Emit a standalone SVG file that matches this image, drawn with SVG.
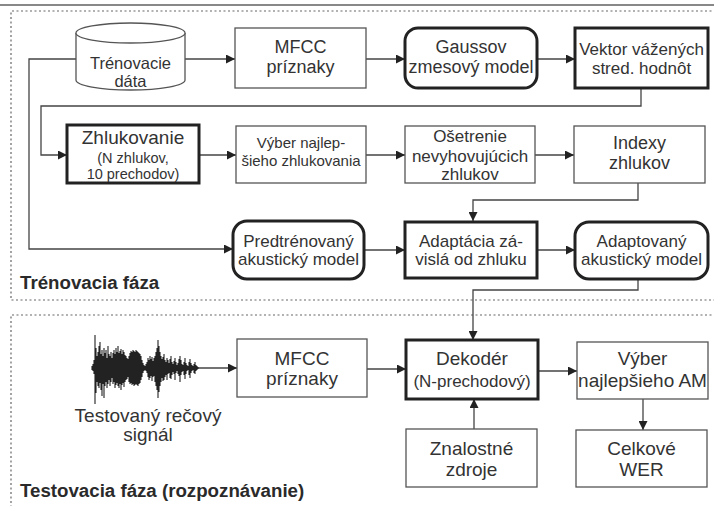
<svg xmlns="http://www.w3.org/2000/svg" width="714" height="506" viewBox="0 0 714 506">
  <defs>
    <marker id="arrow" viewBox="0 0 10 10" refX="10" refY="5" markerWidth="10" markerHeight="9" markerUnits="userSpaceOnUse" orient="auto">
      <path d="M0,0 L10,5 L0,10 Z" fill="#222"/>
    </marker>
    <style>
      text { font-family: "Liberation Sans", Arial, sans-serif; fill: #333; text-anchor: middle; }
      .t165 { font-size: 16.5px; }
      .t17 { font-size: 17px; }
      .t18 { font-size: 18px; }
      .t19 { font-size: 19px; }
      .t15 { font-size: 15px; }
      .t145 { font-size: 14.5px; }
      .label { font-weight: bold; font-size: 18.7px; text-anchor: start; fill: #2a2a2a; }
      .box { fill: #fff; stroke: #555; stroke-width: 1.3; }
      .bold { fill: #fff; stroke: #222; stroke-width: 3; }
      .frame { fill: none; stroke: #666; stroke-width: 1.2; stroke-dasharray: 2 2.5; }
      .conn { fill: none; stroke: #444; stroke-width: 1.3; }
      .arr { marker-end: url(#arrow); }
    </style>
  </defs>

  <rect width="714" height="506" fill="#fff"/>
  <line x1="0" y1="5" x2="714" y2="5" stroke="#888" stroke-width="2"/>

  <!-- phase frames -->
  <g id="frames">
    <path class="frame" d="M716,11 H11 V300 H716"/>
    <path class="frame" d="M716,315 H11 V510"/>
  </g>

  <!-- connectors -->
  <g id="connectors">
    <path class="conn arr" d="M185,59 H235"/>
    <path class="conn arr" d="M366,59 H405"/>
    <path class="conn arr" d="M537,59 H575"/>
    <path class="conn arr" d="M76,59 H29 V249 H233"/>
    <path class="conn arr" d="M641,88 V106 H41 V155 H67"/>
    <path class="conn arr" d="M199,155 H236"/>
    <path class="conn arr" d="M366,155 H405"/>
    <path class="conn arr" d="M535,155 H574"/>
    <path class="conn arr" d="M638,183 V200 H473 V221"/>
    <path class="conn arr" d="M364,250 H405"/>
    <path class="conn arr" d="M537,250 H575"/>
    <path class="conn arr" d="M638,279 V290 H473 V340"/>
    <path class="conn arr" d="M198,368 H237"/>
    <path class="conn arr" d="M367,369 H406"/>
    <path class="conn arr" d="M538,371 H577"/>
    <path class="conn arr" d="M643,399 V430"/>
    <path class="conn arr" d="M474,429 V399"/>
  </g>

  <!-- training phase -->
  <g id="trenovacie-data">
    <path class="box" d="M76,33 V80 A54.5,10 0 0 0 185,80 V33"/>
    <ellipse class="box" cx="130.5" cy="33" rx="54.5" ry="10"/>
    <text class="t165" x="130.5" y="69">Trénovacie</text>
    <text class="t165" x="130.5" y="87">dáta</text>
  </g>
  <g id="mfcc-train">
    <rect class="box" x="235" y="28" width="131" height="60"/>
    <text class="t18" x="300.5" y="53">MFCC</text>
    <text class="t18" x="300.5" y="73">príznaky</text>
  </g>
  <g id="gmm">
    <rect class="bold" x="405" y="28" width="132" height="60" rx="13"/>
    <text class="t18" x="471" y="53">Gaussov</text>
    <text class="t18" x="471" y="73">zmesový model</text>
  </g>
  <g id="vektor">
    <rect class="bold" x="575" y="28" width="133" height="60"/>
    <text class="t17" x="641.5" y="55">Vektor vážených</text>
    <text class="t17" x="641.5" y="74">stred. hodnôt</text>
  </g>
  <g id="zhlukovanie">
    <rect class="bold" x="67" y="125" width="132" height="58"/>
    <text class="t19" x="133" y="144">Zhlukovanie</text>
    <text class="t145" x="133" y="163">(N zhlukov,</text>
    <text class="t145" x="133" y="179">10 prechodov)</text>
  </g>
  <g id="vyber-zhlukovania">
    <rect class="box" x="236" y="126" width="130" height="57"/>
    <text class="t15" x="301" y="148">Výber najlep-</text>
    <text class="t15" x="301" y="166">šieho zhlukovania</text>
  </g>
  <g id="osetrenie">
    <rect class="box" x="405" y="126" width="130" height="57"/>
    <text class="t17" x="470" y="142">Ošetrenie</text>
    <text class="t17" x="470" y="162">nevyhovujúcich</text>
    <text class="t17" x="470" y="180">zhlukov</text>
  </g>
  <g id="indexy">
    <rect class="box" x="574" y="126" width="131" height="57"/>
    <text class="t18" x="639.5" y="149">Indexy</text>
    <text class="t18" x="639.5" y="169">zhlukov</text>
  </g>
  <g id="predtrenovany">
    <rect class="bold" x="233" y="221" width="131" height="58" rx="14"/>
    <text class="t17" x="298.5" y="247">Predtrénovaný</text>
    <text class="t17" x="298.5" y="265">akustický model</text>
  </g>
  <g id="adaptacia">
    <rect class="bold" x="405" y="222" width="132" height="56"/>
    <text class="t17" x="471" y="247">Adaptácia zá-</text>
    <text class="t17" x="471" y="265">vislá od zhluku</text>
  </g>
  <g id="adaptovany">
    <rect class="bold" x="575" y="222" width="133" height="57" rx="14"/>
    <text class="t17" x="641.5" y="247">Adaptovaný</text>
    <text class="t17" x="641.5" y="265">akustický model</text>
  </g>
  <text class="label" x="20" y="289">Trénovacia fáza</text>

  <!-- testing phase -->
  <g id="signal">
    <path fill="none" stroke="#222" stroke-width="1.1" d="M92,366V370M93,364V371M94,360V374M95,335V404M96,348V393M97,356V382M98,352V386M99,346V388M100,342V383M101,354V390M102,350V396M103,356V384M104,348V398M105,353V386M106,350V382M107,358V388M108,346V384M109,354V380M110,356V386M111,352V382M112,358V378M113,353V384M114,350V382M115,354V388M116,348V385M117,352V383M118,346V386M119,353V388M120,351V384M121,349V390M122,354V385M123,350V383M124,352V387M125,355V382M126,356V380M127,358V379M128,359V377M129,356V382M130,353V384M131,351V383M132,352V385M133,350V384M134,351V386M135,352V385M136,350V384M137,351V385M138,352V386M139,353V384M140,354V383M141,356V380M142,360V377M143,363V373M144,365V371M145,366V370M146,364V371M147,362V373M148,358V377M149,360V380M150,356V378M151,359V376M152,357V381M153,361V377M154,358V376M155,356V382M156,352V386M157,348V390M158,340V398M159,346V392M160,352V386M161,356V382M162,359V378M163,357V381M164,354V380M165,360V377M166,362V375M167,358V380M168,360V374M169,363V373M170,359V378M171,356V379M172,362V375M173,364V372M174,361V374M175,358V380M176,362V373M177,365V371M178,363V374M179,359V376M180,356V382M181,360V375M182,364V372M183,365V371M184,362V375M185,358V379M186,363V374M187,365V371M188,366V370M189,362V375M190,359V378M191,363V373M192,365V371M193,366V370M194,364V373M195,362V374M196,365V371M197,366V370M198,367V369"/>
    <line x1="92" y1="368" x2="198" y2="368" stroke="#222" stroke-width="1"/>
    <text class="t19" x="148" y="422">Testovaný rečový</text>
    <text class="t19" x="148" y="441">signál</text>
  </g>
  <g id="mfcc-test">
    <rect class="box" x="237" y="339" width="130" height="58"/>
    <text class="t19" x="302" y="365">MFCC</text>
    <text class="t19" x="302" y="385">príznaky</text>
  </g>
  <g id="dekoder">
    <rect class="bold" x="406" y="340" width="132" height="59"/>
    <text class="t19" x="472" y="365">Dekodér</text>
    <text class="t17" x="472" y="387">(N-prechodový)</text>
  </g>
  <g id="vyber-am">
    <rect class="box" x="577" y="342" width="131" height="57"/>
    <text class="t19" x="642.5" y="365">Výber</text>
    <text class="t19" x="642.5" y="387">najlepšieho AM</text>
  </g>
  <g id="znalostne-zdroje">
    <rect class="box" x="406" y="429" width="131" height="58"/>
    <text class="t19" x="471.5" y="455">Znalostné</text>
    <text class="t19" x="471.5" y="476">zdroje</text>
  </g>
  <g id="celkove-wer">
    <rect class="box" x="576" y="430" width="131" height="57"/>
    <text class="t19" x="641.5" y="455">Celkové</text>
    <text class="t19" x="641.5" y="476">WER</text>
  </g>
  <text class="label" x="20" y="497">Testovacia fáza (rozpoznávanie)</text>
</svg>
